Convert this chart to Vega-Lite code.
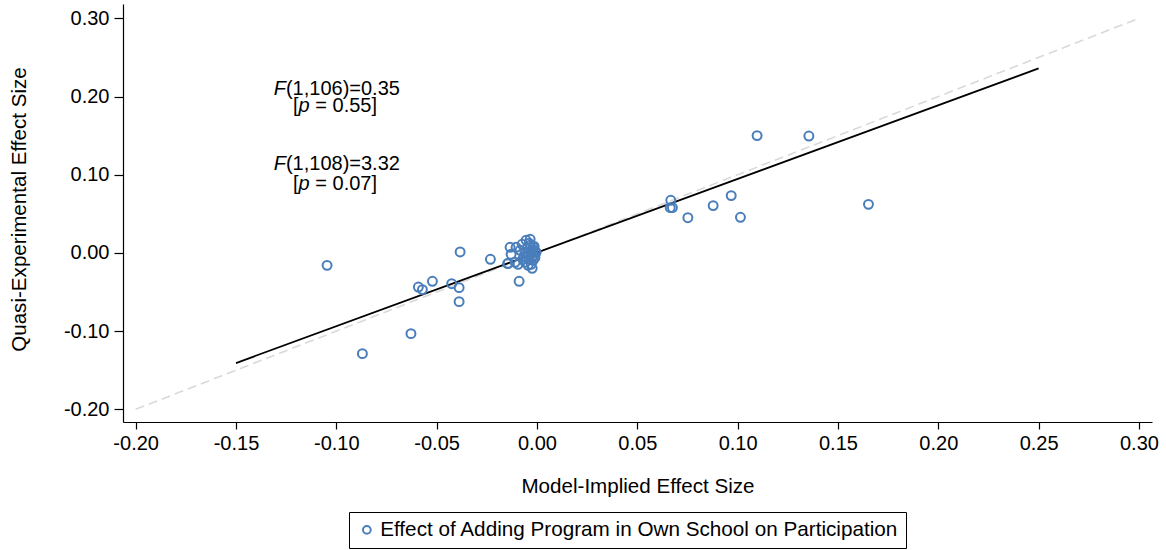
{
  "$schema": "https://vega.github.io/schema/vega-lite/v6.json",
  "width": 1029,
  "height": 418,
  "autosize": {"type": "none"},
  "padding": {"left": 123, "top": 4, "right": 14, "bottom": 128},
  "background": "white",
  "config": {
    "font": "Liberation Sans",
    "view": {"stroke": null},
    "axis": {
      "grid": false,
      "domainColor": "#000000",
      "tickColor": "#000000",
      "domainWidth": 1.2,
      "tickWidth": 1.2,
      "labelColor": "#000000",
      "titleColor": "#000000",
      "labelFontSize": 20,
      "titleFontSize": 20.6,
      "titleFontWeight": "normal",
      "labelFlush": false,
      "labelOverlap": false
    }
  },
  "datasets": {
    "diag": [
      {"x": -0.2, "y": -0.2},
      {"x": 0.3, "y": 0.3}
    ],
    "fit": [
      {"x": -0.15, "y": -0.1408},
      {"x": 0.25, "y": 0.236}
    ],
    "pts": [
      {"x": -0.1046, "y": -0.0159},
      {"x": -0.087, "y": -0.1288},
      {"x": -0.0628, "y": -0.1032},
      {"x": -0.0591, "y": -0.0436},
      {"x": -0.0571, "y": -0.0469},
      {"x": -0.0521, "y": -0.0363},
      {"x": -0.0425, "y": -0.0393},
      {"x": -0.0388, "y": -0.0444},
      {"x": -0.0388, "y": -0.0623},
      {"x": -0.0383, "y": 0.0012},
      {"x": -0.0232, "y": -0.0082},
      {"x": -0.0146, "y": -0.0137},
      {"x": -0.0134, "y": 0.0072},
      {"x": -0.0129, "y": -0.0018},
      {"x": -0.0144, "y": -0.0133},
      {"x": -0.0109, "y": -0.012},
      {"x": -0.0089, "y": -0.0363},
      {"x": -0.0084, "y": 0.0033},
      {"x": -0.0074, "y": 0.011},
      {"x": -0.0064, "y": -0.0043},
      {"x": -0.0059, "y": -0.012},
      {"x": -0.0054, "y": 0.0161},
      {"x": -0.0049, "y": 0.0059},
      {"x": -0.0044, "y": -0.0005},
      {"x": -0.0039, "y": -0.0082},
      {"x": -0.0034, "y": 0.0174},
      {"x": -0.0034, "y": 0.0097},
      {"x": -0.0029, "y": 0.002},
      {"x": -0.0029, "y": -0.0146},
      {"x": -0.0024, "y": -0.0197},
      {"x": -0.0019, "y": 0.0072},
      {"x": -0.0014, "y": -0.0031},
      {"x": -0.0009, "y": 0.002},
      {"x": -0.0004, "y": 0.0008},
      {"x": -0.0039, "y": 0.0123},
      {"x": -0.0054, "y": -0.0056},
      {"x": -0.0019, "y": -0.0095},
      {"x": -0.0104, "y": 0.0072},
      {"x": -0.0094, "y": -0.0146},
      {"x": -0.0014, "y": 0.0084},
      {"x": -0.0024, "y": -0.0056},
      {"x": -0.0044, "y": -0.0159},
      {"x": -0.003, "y": -0.001},
      {"x": -0.002, "y": 0.004},
      {"x": -0.006, "y": 0.0},
      {"x": -0.001, "y": -0.006},
      {"x": -0.007, "y": -0.008},
      {"x": 0.0667, "y": 0.0673},
      {"x": 0.0664, "y": 0.0579},
      {"x": 0.0675, "y": 0.0579},
      {"x": 0.0752, "y": 0.0451},
      {"x": 0.0878, "y": 0.0605},
      {"x": 0.0968, "y": 0.0733},
      {"x": 0.1014, "y": 0.0455},
      {"x": 0.1097, "y": 0.15},
      {"x": 0.1355, "y": 0.1495},
      {"x": 0.1652, "y": 0.0621}
    ],
    "notes": [
      {"x": -0.1251, "y": 0.2102, "part": "fname", "t": "F"},
      {"x": -0.1251, "y": 0.2102, "part": "fargs", "t": "(1,106)=0.35"},
      {"x": -0.1188, "y": 0.1885, "part": "open", "t": "["},
      {"x": -0.1188, "y": 0.1885, "part": "pname", "t": "p"},
      {"x": -0.1188, "y": 0.1885, "part": "pval", "t": "= 0.55]"},
      {"x": -0.1251, "y": 0.1132, "part": "fname", "t": "F"},
      {"x": -0.1251, "y": 0.1132, "part": "fargs", "t": "(1,108)=3.32"},
      {"x": -0.1188, "y": 0.0876, "part": "open", "t": "["},
      {"x": -0.1188, "y": 0.0876, "part": "pname", "t": "p"},
      {"x": -0.1188, "y": 0.0876, "part": "pval", "t": "= 0.07]"}
    ]
  },
  "encoding": {
    "x": {
      "field": "x",
      "type": "quantitative",
      "scale": {"domain": [-0.2063, 0.3065], "nice": false, "zero": false},
      "axis": {
        "title": "Model-Implied Effect Size",
        "values": [-0.2, -0.15, -0.1, -0.05, 0, 0.05, 0.1, 0.15, 0.2, 0.25, 0.3],
        "labelExpr": "(datum.value < 0 ? '-' : '') + format(abs(datum.value), '.2f')",
        "tickSize": 7,
        "labelPadding": 20,
        "labelBaseline": "alphabetic",
        "titleY": 70,
        "titleBaseline": "alphabetic"
      }
    },
    "y": {
      "field": "y",
      "type": "quantitative",
      "scale": {"domain": [-0.2162, 0.3183], "nice": false, "zero": false},
      "axis": {
        "title": "Quasi-Experimental Effect Size",
        "values": [-0.2, -0.1, 0, 0.1, 0.2, 0.3],
        "labelExpr": "(datum.value < 0 ? '-' : '') + format(abs(datum.value), '.2f')",
        "tickSize": 9,
        "labelPadding": 5,
        "labelBaseline": "middle",
        "titleAngle": 270,
        "titleX": -104,
        "titleY": 205,
        "titleAlign": "center",
        "titleBaseline": "middle"
      }
    }
  },
  "layer": [
    {
      "data": {"name": "diag"},
      "mark": {"type": "line", "color": "#d9d9d9", "strokeWidth": 1.6, "strokeDash": [9, 5]}
    },
    {
      "data": {"name": "fit"},
      "mark": {"type": "line", "color": "#000000", "strokeWidth": 1.8}
    },
    {
      "data": {"name": "pts"},
      "mark": {"type": "point", "shape": "circle", "filled": false, "size": 80, "strokeWidth": 2, "opacity": 1},
      "encoding": {
        "color": {
          "datum": "Effect of Adding Program in Own School on Participation",
          "type": "nominal",
          "scale": {"range": ["#4a7ebb"]},
          "legend": {
            "title": null,
            "orient": "none",
            "legendX": 226,
            "legendY": 508,
            "direction": "vertical",
            "strokeColor": "#000000",
            "fillColor": "#ffffff",
            "padding": 7.5,
            "labelFontSize": 20.7,
            "labelLimit": 0,
            "labelColor": "#000000",
            "symbolType": "circle",
            "symbolSize": 60,
            "symbolStrokeWidth": 2,
            "symbolOffset": 0,
            "labelOffset": 3
          }
        }
      }
    },
    {
      "data": {"name": "notes"},
      "transform": [{"filter": "datum.part === 'fname'"}],
      "mark": {"type": "text", "fontSize": 20, "fontStyle": "italic", "align": "right", "baseline": "middle", "color": "#000000"},
      "encoding": {"text": {"field": "t"}}
    },
    {
      "data": {"name": "notes"},
      "transform": [{"filter": "datum.part === 'fargs'"}],
      "mark": {"type": "text", "fontSize": 20, "align": "left", "baseline": "middle", "color": "#000000"},
      "encoding": {"text": {"field": "t"}}
    },
    {
      "data": {"name": "notes"},
      "transform": [{"filter": "datum.part === 'open'"}],
      "mark": {"type": "text", "fontSize": 20, "align": "right", "baseline": "middle", "color": "#000000"},
      "encoding": {"text": {"field": "t"}}
    },
    {
      "data": {"name": "notes"},
      "transform": [{"filter": "datum.part === 'pname'"}],
      "mark": {"type": "text", "fontSize": 20, "fontStyle": "italic", "align": "left", "baseline": "middle", "color": "#000000"},
      "encoding": {"text": {"field": "t"}}
    },
    {
      "data": {"name": "notes"},
      "transform": [{"filter": "datum.part === 'pval'"}],
      "mark": {"type": "text", "fontSize": 20, "align": "left", "baseline": "middle", "dx": 16.7, "color": "#000000"},
      "encoding": {"text": {"field": "t"}}
    }
  ]
}
